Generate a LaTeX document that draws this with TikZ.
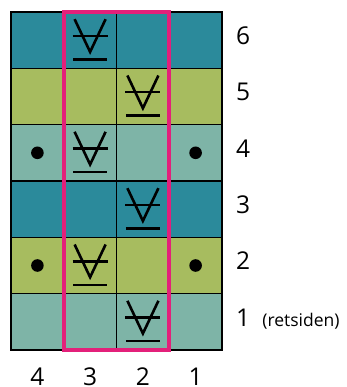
\documentclass[tikz,border=0pt]{standalone}
\usepackage{fontspec}
\setmainfont{Open Sans}
\usepackage{xcolor}
\usepackage{tikz}
\usetikzlibrary{positioning}
\definecolor{RowDark}{HTML}{2B8A9B}
\definecolor{RowGreen}{HTML}{A7BC5F}
\definecolor{RowLight}{HTML}{7EB4A7}
\definecolor{FrameRed}{HTML}{E3207A}
\newcommand{\slipmark}[2]{%
  \begin{scope}[shift={(#1,#2)}]
    \draw[markline] (-15.5,-21) -- (0,11.7) -- (15.5,-21);
    \draw[markline] (-17.5,-4.3) -- (17.5,-4.3);
    \draw[markline] (-17,19.3) -- (17,19.3);
  \end{scope}}
\begin{document}
\begin{tikzpicture}[x=1pt,y=-1pt,
    every node/.style={font=\fontsize{24.5}{28}\selectfont, text=black, inner sep=0pt},
    gridline/.style={line width=1.2pt},
    markline/.style={line width=2.6pt}]
  \useasboundingbox (0,0) rectangle (346,387);
  \foreach \r/\col in {6/RowDark,5/RowGreen,4/RowLight,3/RowDark,2/RowGreen,1/RowLight}
    \fill[\col] (11,{12+(6-\r)*56.33}) rectangle (222,{12+(7-\r)*56.33});
  \foreach \k in {1,2,3}
    \draw[gridline] ({11+\k*52.75},12) -- ({11+\k*52.75},350);
  \foreach \k in {1,...,5}
    \draw[gridline] (11,{12+\k*56.33}) -- (222,{12+\k*56.33});
  \draw[line width=2pt] (11,12) rectangle (222,350);
  \foreach \x/\y in {37.4/152.8, 195.6/152.8, 37.4/265.5, 195.6/265.5}
    \fill (\x,\y) circle (6.3pt);
  \foreach \x/\y in {90.1/40.2, 142.9/96.5, 90.1/152.8, 142.9/209.2, 90.1/265.5, 142.9/321.8}
    \slipmark{\x}{\y};
  \draw[FrameRed, line width=4pt] (64.3,11.7) rectangle (169,350);
  \foreach \r in {1,...,6}
    \node (rlbl\r) at (243,{12+(6.5-\r)*56.33-4.5}) {\r};
  \node[anchor=base west, font=\fontsize{17.5}{20}\selectfont] (retside) at ([xshift=12pt]rlbl1.base east) {(retsiden)};
  \foreach \c in {1,...,4}
    \node (clbl\c) at ({11+(4.5-\c)*52.75},376.5) {\c};
\end{tikzpicture}
\end{document}
